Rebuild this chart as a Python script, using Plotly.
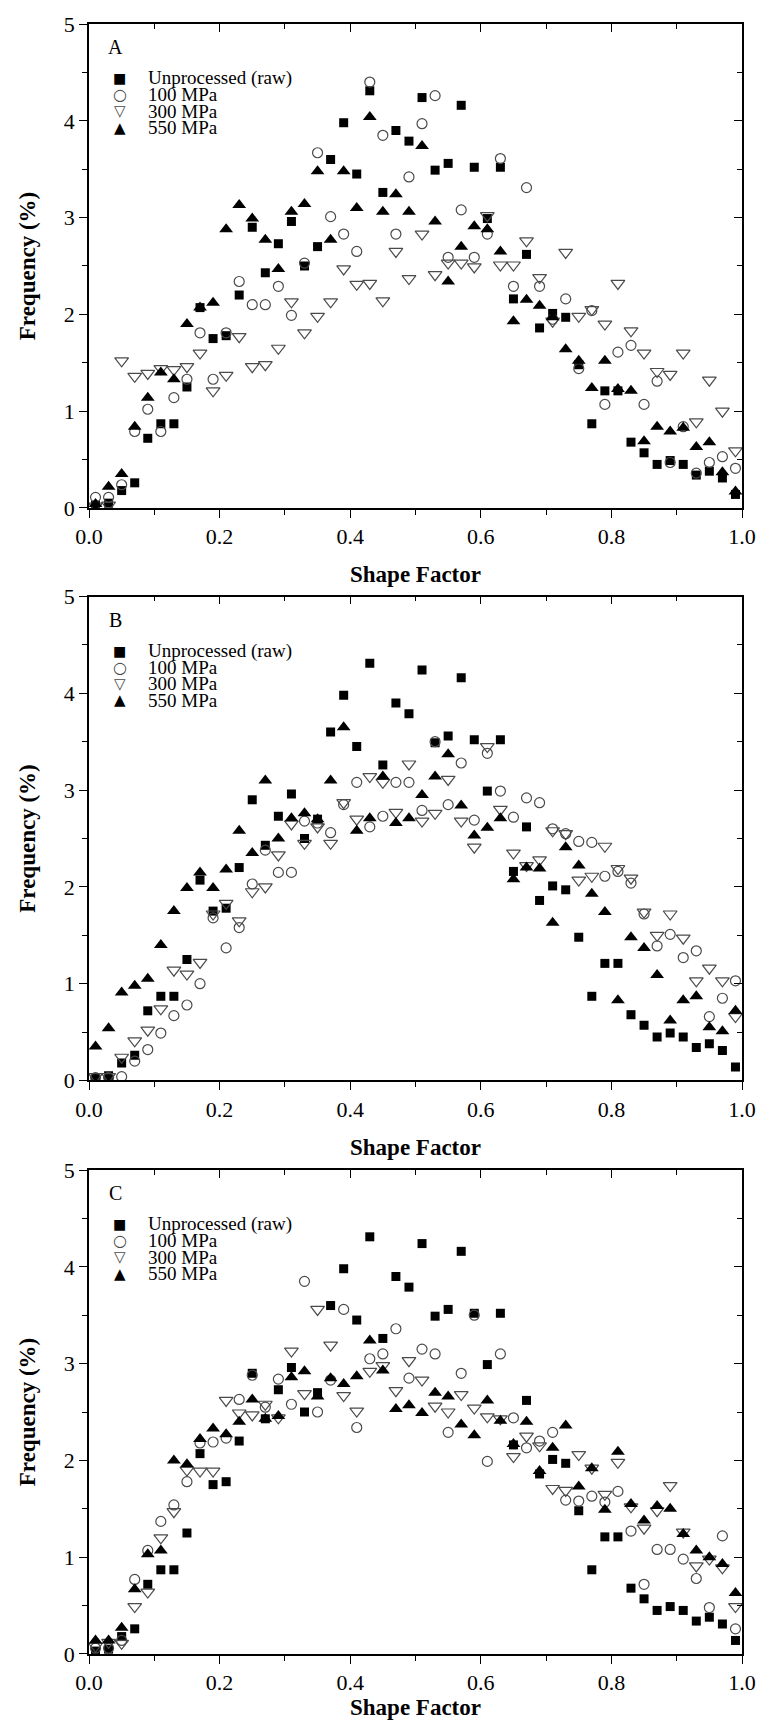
import plotly.graph_objects as go

# Shape factor bin centres (shared by every series)
shape_factor = [0.01, 0.03, 0.05, 0.07, 0.09, 0.11, 0.13, 0.15, 0.17, 0.19,
                0.21, 0.23, 0.25, 0.27, 0.29, 0.31, 0.33, 0.35, 0.37, 0.39,
                0.41, 0.43, 0.45, 0.47, 0.49, 0.51, 0.53, 0.55, 0.57, 0.59,
                0.61, 0.63, 0.65, 0.67, 0.69, 0.71, 0.73, 0.75, 0.77, 0.79,
                0.81, 0.83, 0.85, 0.87, 0.89, 0.91, 0.93, 0.95, 0.97, 0.99]

# Unprocessed (raw) distribution, repeated in every panel
unprocessed = [0.03, 0.05, 0.18, 0.26, 0.72, 0.87, 0.87, 1.25, 2.07, 1.75,
               1.78, 2.20, 2.90, 2.43, 2.73, 2.96, 2.50, 2.70, 3.60, 3.98,
               3.45, 4.31, 3.26, 3.90, 3.79, 4.24, 3.49, 3.56, 4.16, 3.52,
               2.99, 3.52, 2.16, 2.62, 1.86, 2.01, 1.97, 1.48, 0.87, 1.21,
               1.21, 0.68, 0.57, 0.45, 0.49, 0.45, 0.34, 0.38, 0.31, 0.14]

# Panel A
a_100 = [0.11, 0.11, 0.24, 0.79, 1.02, 0.79, 1.14, 1.33, 1.81, 1.33,
         1.81, 2.34, 2.10, 2.10, 2.29, 1.99, 2.53, 3.67, 3.01, 2.83,
         2.65, 4.40, 3.85, 2.83, 3.42, 3.97, 4.26, 2.59, 3.08, 2.59,
         2.83, 3.61, 2.29, 3.31, 2.29, 1.95, 2.16, 1.44, 2.04, 1.07,
         1.61, 1.68, 1.07, 1.31, 0.47, 0.84, 0.36, 0.47, 0.53, 0.41]
a_300 = [0.02, 0.03, 1.52, 1.36, 1.39, 1.44, 1.43, 1.46, 1.60, 1.21,
         1.37, 1.77, 1.46, 1.48, 1.65, 2.13, 1.81, 1.98, 2.13, 2.47,
         2.31, 2.32, 2.14, 2.65, 2.37, 2.83, 2.41, 2.53, 2.53, 2.49,
         3.02, 2.51, 2.51, 2.76, 2.38, 1.93, 2.64, 1.98, 2.05, 1.90,
         2.32, 1.83, 1.60, 1.41, 1.38, 1.60, 0.89, 1.32, 1.00, 0.59]
a_550 = [0.04, 0.22, 0.35, 0.84, 1.14, 1.40, 1.33, 1.90, 2.07, 2.12,
         2.88, 3.13, 2.99, 2.77, 2.47, 3.06, 3.14, 3.48, 2.77, 3.48,
         3.10, 4.04, 3.06, 3.24, 3.06, 3.74, 2.96, 2.34, 2.70, 2.91,
         2.88, 2.65, 1.93, 2.15, 2.09, 1.97, 1.64, 1.52, 1.24, 1.52,
         1.23, 1.21, 0.69, 0.84, 0.79, 0.83, 0.63, 0.68, 0.37, 0.17]

# Panel B
b_100 = [0.03, 0.03, 0.04, 0.20, 0.32, 0.49, 0.67, 0.78, 1.00, 1.68,
         1.37, 1.58, 2.03, 2.38, 2.15, 2.15, 2.68, 2.66, 2.56, 2.85,
         3.08, 2.62, 2.73, 3.08, 3.08, 2.79, 3.50, 2.85, 3.28, 2.69,
         3.38, 2.99, 2.72, 2.92, 2.87, 2.60, 2.55, 2.47, 2.46, 2.11,
         2.16, 2.04, 1.72, 1.39, 1.51, 1.27, 1.34, 0.66, 0.85, 1.03]
b_300 = [0.04, 0.04, 0.24, 0.41, 0.52, 0.74, 1.14, 1.10, 1.22, 1.72,
         1.83, 1.65, 1.95, 2.00, 2.33, 2.65, 2.45, 2.62, 2.45, 2.87,
         2.70, 3.14, 3.08, 2.77, 3.27, 2.68, 2.76, 3.11, 2.68, 2.41,
         3.45, 2.80, 2.35, 2.22, 2.28, 2.58, 2.55, 2.07, 2.11, 2.42,
         2.19, 2.09, 1.74, 1.50, 1.72, 1.47, 1.03, 1.16, 1.03, 0.66]
b_550 = [0.35, 0.54, 0.91, 0.98, 1.05, 1.40, 1.75, 1.99, 2.15, 1.99,
         2.18, 2.58, 2.35, 3.10, 2.50, 2.71, 2.76, 2.70, 3.10, 3.65,
         2.58, 2.71, 3.14, 2.66, 2.71, 2.95, 3.14, 3.37, 2.84, 2.53,
         2.61, 2.71, 2.08, 2.20, 2.19, 1.63, 2.41, 2.22, 1.93, 1.74,
         0.83, 1.48, 1.37, 1.09, 0.62, 0.83, 0.87, 0.55, 0.51, 0.72]

# Panel C
c_100 = [0.06, 0.06, 0.14, 0.77, 1.07, 1.37, 1.54, 1.78, 2.18, 2.19,
         2.23, 2.63, 2.88, 2.55, 2.84, 2.58, 3.85, 2.50, 2.83, 3.56,
         2.34, 3.05, 3.10, 3.36, 2.85, 3.15, 3.10, 2.29, 2.90, 3.50,
         1.99, 3.10, 2.44, 2.13, 2.20, 2.29, 1.59, 1.58, 1.63, 1.57,
         1.68, 1.27, 0.72, 1.08, 1.08, 0.98, 0.78, 0.48, 1.22, 0.26]
c_300 = [0.08, 0.12, 0.11, 0.49, 0.64, 1.20, 1.47, 1.90, 1.89, 1.89,
         2.62, 2.49, 2.47, 2.58, 2.44, 3.13, 2.69, 3.56, 3.19, 2.67,
         2.51, 2.92, 2.98, 2.72, 3.03, 2.83, 2.56, 2.50, 2.68, 2.54,
         2.45, 2.43, 2.04, 2.25, 2.15, 1.71, 1.69, 2.06, 1.92, 1.65,
         1.98, 1.52, 1.30, 1.48, 1.74, 1.26, 0.91, 0.98, 0.89, 0.49]
c_550 = [0.14, 0.14, 0.27, 0.67, 1.03, 1.07, 2.00, 1.96, 2.22, 2.33,
         2.27, 2.40, 2.63, 2.43, 2.46, 2.86, 2.92, 2.66, 2.85, 2.79,
         2.87, 3.24, 2.93, 2.53, 2.57, 2.49, 2.70, 2.66, 2.37, 2.26,
         2.62, 2.41, 2.17, 2.40, 1.89, 2.13, 2.36, 1.73, 1.92, 1.49,
         2.09, 1.55, 1.38, 1.53, 1.50, 1.24, 1.07, 1.00, 0.93, 0.63]

series_names = ["Unprocessed (raw)", "100 MPa", "300 MPa", "550 MPa"]
panel_labels = ["A", "B", "C"]
panel_data = [
    [unprocessed, a_100, a_300, a_550],
    [unprocessed, b_100, b_300, b_550],
    [unprocessed, c_100, c_300, c_550],
]

GREY = "#4a4a4a"
marker_styles = [
    dict(symbol="square", size=9, color="black"),
    dict(symbol="circle-open", size=10, color=GREY, line=dict(width=1.2)),
    dict(symbol="triangle-down-open", size=12, color=GREY, line=dict(width=1.2)),
    dict(symbol="triangle-up", size=12, color="black"),
]
legend_glyphs = [("■", "black", 14), ("○", GREY, 16), ("▽", GREY, 15), ("▲", "black", 15)]

SERIF = "Liberation Serif"
W, H = 771, 1726
PLOT_L, PLOT_R = 89, 742
PANEL_TOPS = [14, 596, 1179]
PANEL_H = 492
X_TITLE_GAP = [18, 18, 3]
M_T = PANEL_TOPS[0]
M_B = H - (PANEL_TOPS[-1] + PANEL_H)
INNER_H = H - M_T - M_B


def y_domain(top):
    hi = 1 - (top - M_T) / INNER_H
    lo = 1 - (top + PANEL_H - M_T) / INNER_H
    return [max(0.0, lo), min(1.0, hi)]


fig = go.Figure()
layout = dict(
    width=W, height=H,
    margin=dict(l=PLOT_L, r=W - PLOT_R, t=M_T, b=M_B),
    paper_bgcolor="white", plot_bgcolor="white",
    showlegend=False,
    font=dict(family=SERIF, color="black"),
)

tick_font = dict(family=SERIF, size=22, color="black")
title_font = dict(family=SERIF, size=23, color="black")
annotations = []

for i, (label, ys) in enumerate(zip(panel_labels, panel_data)):
    n = i + 1
    xa, ya = f"x{n}", f"y{n}"
    for name, vals, mk in zip(series_names, ys, marker_styles):
        fig.add_trace(go.Scatter(
            x=shape_factor, y=vals, mode="markers", name=name,
            marker=mk, xaxis=xa, yaxis=ya, showlegend=False,
        ))
    dom = y_domain(PANEL_TOPS[i])
    sfx = "" if n == 1 else str(n)
    layout[f"xaxis{sfx}"] = dict(
        domain=[0, 1], anchor=ya, range=[0, 1],
        tick0=0, dtick=0.2, tickformat=".1f",
        ticks="outside", ticklen=8, tickwidth=1.3, tickcolor="black",
        minor=dict(dtick=0.1, ticks="outside", ticklen=5, tickwidth=1.3, tickcolor="black"),
        showline=True, linecolor="black", linewidth=1.6,
        showgrid=False, zeroline=False, tickfont=tick_font,
        title=dict(text="<b>Shape Factor</b>", font=title_font, standoff=X_TITLE_GAP[i]),
    )
    layout[f"yaxis{sfx}"] = dict(
        domain=dom, anchor=xa, range=[0, 5],
        tick0=0, dtick=1,
        ticks="outside", ticklen=8, tickwidth=1.3, tickcolor="black",
        minor=dict(dtick=0.5, ticks="outside", ticklen=5, tickwidth=1.3, tickcolor="black"),
        showline=True, linecolor="black", linewidth=1.6,
        showgrid=False, zeroline=False, tickfont=tick_font,
        title=dict(text="<b>Frequency (%)</b>", font=title_font, standoff=22),
    )
    # Opposite frame sides with inward ticks
    layout[f"xaxis{n + 3}"] = dict(
        overlaying=xa, anchor=ya, side="top", range=[0, 1],
        tick0=0, dtick=0.2, ticks="inside", ticklen=8, tickwidth=1.3, tickcolor="black",
        minor=dict(dtick=0.1, ticks="inside", ticklen=5, tickwidth=1.3, tickcolor="black"),
        showticklabels=False, showline=True, linecolor="black", linewidth=1.6,
        showgrid=False, zeroline=False,
    )
    layout[f"yaxis{n + 3}"] = dict(
        overlaying=ya, anchor=xa, side="right", range=[0, 5],
        tick0=0, dtick=1, ticks="inside", ticklen=8, tickwidth=1.3, tickcolor="black",
        minor=dict(dtick=0.5, ticks="inside", ticklen=5, tickwidth=1.3, tickcolor="black"),
        showticklabels=False, showline=True, linecolor="black", linewidth=1.6,
        showgrid=False, zeroline=False,
    )
    # Panel letter
    annotations.append(dict(
        xref=xa, yref=ya, x=0.04, y=4.76, text=label, showarrow=False,
        font=dict(family=SERIF, size=20, color="black"), xanchor="center", yanchor="middle",
    ))
    # Legend rows
    for k, (name, (glyph, col, gsz)) in enumerate(zip(series_names, legend_glyphs)):
        yy = 4.44 - 0.17 * k
        annotations.append(dict(
            xref=xa, yref=ya, x=0.047, y=yy, text=glyph, showarrow=False,
            font=dict(family="DejaVu Sans", size=gsz, color=col),
            xanchor="center", yanchor="middle",
        ))
        annotations.append(dict(
            xref=xa, yref=ya, x=0.088, y=yy, text=name, showarrow=False,
            font=dict(family=SERIF, size=19, color="black"),
            xanchor="left", yanchor="middle",
        ))

    # Invisible helper traces bind the overlay frame axes
    fig.add_trace(go.Scatter(x=[None], y=[None], xaxis=f"x{n + 3}", yaxis=f"y{n + 3}",
                             showlegend=False, hoverinfo="skip"))

layout["annotations"] = annotations
fig.update_layout(**layout)
fig.write_html("out.html")
